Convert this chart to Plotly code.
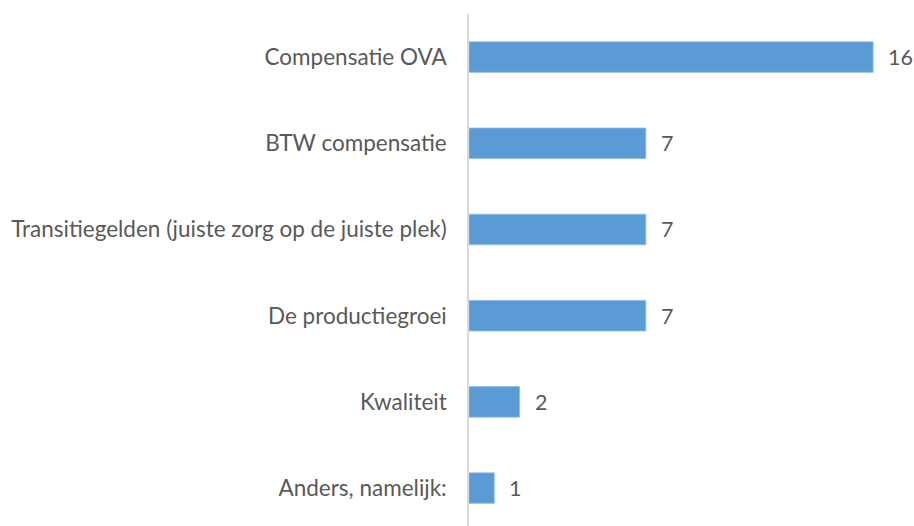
import plotly.graph_objects as go

categories = [
    "Compensatie OVA",
    "BTW compensatie",
    "Transitiegelden (juiste zorg op de juiste plek)",
    "De productiegroei",
    "Kwaliteit",
    "Anders, namelijk:",
]
values = [16, 7, 7, 7, 2, 1]

FONT = "Lato"
TXT = "#595959"
BAR = "#5B9BD5"

fig = go.Figure()
fig.add_trace(go.Bar(
    y=categories, x=values, orientation="h",
    marker=dict(color=BAR, line=dict(color="#8fbbe3", width=0.8)),
    width=0.354, hoverinfo="skip",
))

for c, v in zip(categories, values):
    fig.add_annotation(x=v, y=c, text=str(v), showarrow=False,
                       xanchor="left", yanchor="middle", xshift=13,
                       font=dict(family=FONT, size=21.5, color=TXT))

fig.update_layout(
    width=914, height=526,
    margin=dict(l=469, r=3, t=14, b=0),
    paper_bgcolor="white", plot_bgcolor="white",
    showlegend=False,
    font=dict(family=FONT, size=22.5, color=TXT),
    xaxis=dict(range=[0, 17.5], showgrid=False, zeroline=False,
               showticklabels=False, showline=False),
    yaxis=dict(type="category", categoryorder="array", categoryarray=categories,
               range=[5.44, -0.5], autorange=False,
               showline=True, linecolor="#D9D9D9", linewidth=1.5,
               showgrid=False, zeroline=False, ticks="",
               ticklabelstandoff=16,
               tickfont=dict(family=FONT, size=22.5, color=TXT)),
)

fig.write_html(
    "out.html",
    config={"displayModeBar": False},
    post_script="document.body.style.margin='0';document.body.style.overflow='hidden';",
)
